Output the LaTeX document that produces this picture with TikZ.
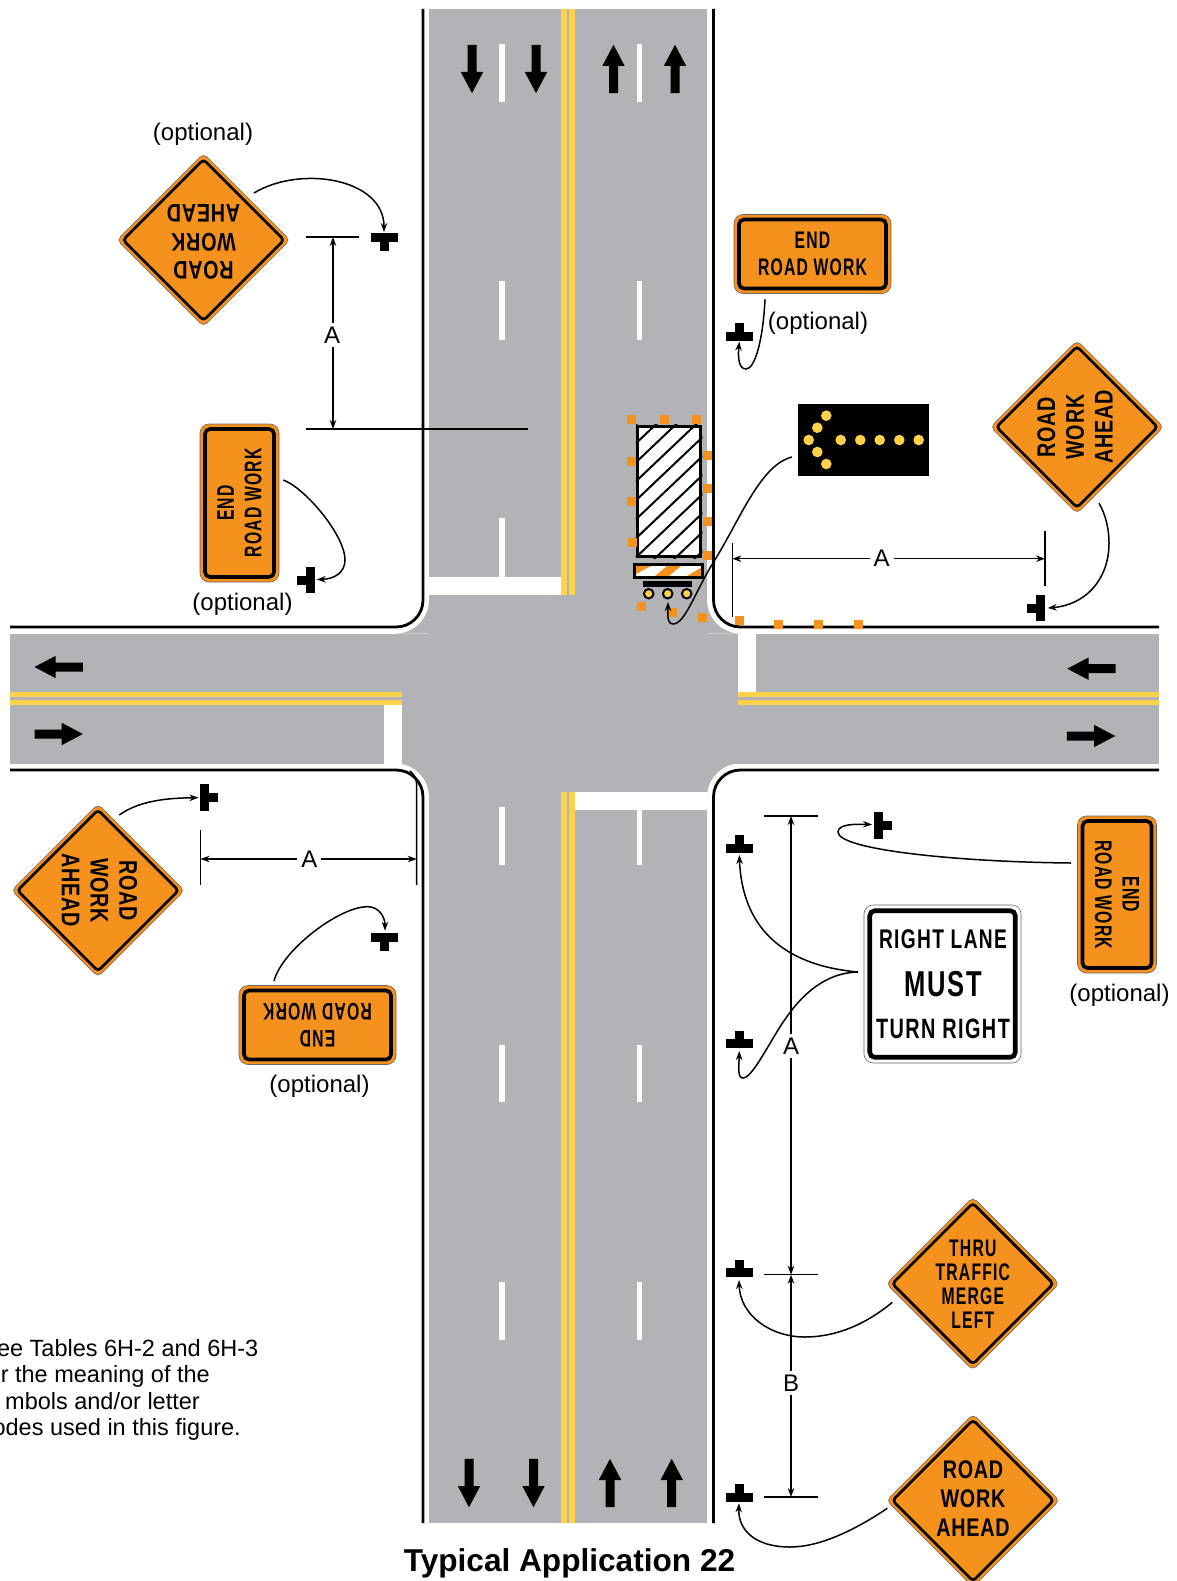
\documentclass[tikz,border=0pt]{standalone}
\usepackage{fontspec}
\usetikzlibrary{shapes.geometric,arrows.meta}
\setmainfont{Liberation Sans}
\newfontfamily\signf{Liberation Sans}[FakeStretch=0.655,LetterSpace=5]
\newfontfamily\whitef{Liberation Sans}[FakeStretch=0.71,LetterSpace=5]
\newfontfamily\dianf{Liberation Sans}[FakeStretch=0.775,LetterSpace=3]
\definecolor{roadgray}{HTML}{B1B3B6}
\definecolor{signorange}{HTML}{F5921E}
\definecolor{lineyellow}{HTML}{FFD24A}
\tikzset{
  conn/.style={line width=1.5pt,-{Stealth[length=9pt,width=6.5pt]}},
  dimline/.style={line width=1.5pt,{Stealth[length=9pt,width=6.5pt]}-{Stealth[length=9pt,width=6.5pt]}},
  tick/.style={line width=1.5pt},
  curb/.style={line width=2.8pt,black},
  dout/.style={diamond,aspect=1,inner sep=0pt,outer sep=0pt,minimum width=173pt,minimum height=173pt,fill=signorange,draw=black!60,line width=.6pt,rounded corners=5pt},
  din/.style={diamond,aspect=1,inner sep=0pt,outer sep=0pt,minimum width=161pt,minimum height=161pt,draw=black,line width=2.7pt,rounded corners=3.5pt},
  rout/.style={rectangle,inner sep=0pt,outer sep=0pt,fill=signorange,draw=black!60,line width=.6pt,rounded corners=9pt},
  rin/.style={rectangle,inner sep=0pt,outer sep=0pt,draw=black,line width=3.6pt,rounded corners=5pt},
  dimlab/.style={fill=white,inner sep=4pt,font=\fontsize{24}{24}\selectfont},
  opt/.style={font=\fontsize{24}{24}\selectfont},
  notetxt/.style={anchor=base east,inner sep=0pt,font=\fontsize{23.5}{24}\selectfont},
  dtxt/.style={align=center,inner sep=0pt,font=\dianf\bfseries\fontsize{25.5}{28.8}\selectfont},
  stxt/.style={align=center,inner sep=0pt,font=\signf\bfseries\fontsize{24}{27.7}\selectfont},
  dot/.style={circle,fill=lineyellow,inner sep=0pt,minimum size=10.6pt},
  wheel/.style={circle,fill=lineyellow,draw=black,line width=2pt,inner sep=0pt,minimum size=9.5pt}
}
\newcommand{\signpost}[6]{%
  \begin{scope}[shift={(#2,#3)},rotate=#4]
    \fill[black] (-13.4,0) rectangle (13.4,8.8);
    \fill[black] (-4.5,0) rectangle (4.5,-8.8);
  \end{scope}
  \coordinate (#1) at (#5,#6);}
\newcommand{\bigarrow}[3]{%
  \begin{scope}[shift={(#1,#2)},rotate=#3]
    \fill[black] (-4.5,24.2) -- (4.5,24.2) -- (4.5,-3) -- (11.2,-3) -- (0,-24.2) -- (-11.2,-3) -- (-4.5,-3) -- cycle;
  \end{scope}}
\newcommand{\dsign}[6]{%
  \node[dout] (#1) at (#2,#3) {};
  \node[din] (#1i) at (#2,#3) {};
  \node[#6,rotate=#4] (#1t) at (#2,#3) {#5};}
\newcommand{\rsign}[7]{%
  \node[rout,minimum width=#4pt,minimum height=#5pt] (#1) at (#2,#3) {};
  \node[rin,minimum width=#4pt-10pt,minimum height=#5pt-10pt] (#1i) at (#2,#3) {};
  \node[stxt,rotate=#6] (#1t) at (#2,#3) {#7};}
\begin{document}
\begin{tikzpicture}[x=1pt,y=-1pt]
\clip (0,0) rectangle (1177,1581);
% road
\fill[roadgray] (429,9) rectangle (707,1523);
\fill[roadgray] (10,633.5) rectangle (1159,763.5);
\fill[roadgray] (429,600) .. controls (429,618.2) and (414.2,633.5) .. (396,633.5) -- (429,633.5) -- cycle;
\fill[roadgray] (707,600) .. controls (707,618.2) and (721.8,633.5) .. (740,633.5) -- (707,633.5) -- cycle;
\fill[roadgray] (429,797) .. controls (429,778.8) and (414.2,763.5) .. (396,763.5) -- (429,763.5) -- cycle;
\fill[roadgray] (707,797) .. controls (707,778.8) and (721.8,763.5) .. (740,763.5) -- (707,763.5) -- cycle;
% stop bars
\fill[white] (429,577) rectangle (561,595);
\fill[white] (575,792) rectangle (707,810);
\fill[white] (384,705) rectangle (402,763.5);
\fill[white] (738,633.5) rectangle (756,692);
% yellow centre lines
\fill[lineyellow] (561,9) rectangle (567,595);
\fill[lineyellow] (569,9) rectangle (575,595);
\fill[lineyellow] (561,792) rectangle (567,1523);
\fill[lineyellow] (569,792) rectangle (575,1523);
\fill[lineyellow] (10,692) rectangle (402,697.4);
\fill[lineyellow] (10,699.7) rectangle (402,705);
\fill[lineyellow] (738,692) rectangle (1159,697.4);
\fill[lineyellow] (738,699.7) rectangle (1159,705);
% lane lines
\foreach \a/\b in {44/102,281/340,518/577,807/865,1045/1102,1282/1340}
  \fill[white] (499.3,\a) rectangle (504.7,\b);
\foreach \a/\b in {44/102,281/340,810/865,1045/1102,1282/1340}
  \fill[white] (636.8,\a) rectangle (642.2,\b);
% curbs
\draw[curb] (423,9) -- (423,600) .. controls (423,615) and (411,627) .. (396,627) -- (10,627);
\draw[curb] (713.5,9) -- (713.5,600) .. controls (713.5,615) and (725.5,627) .. (740.5,627) -- (1159,627);
\draw[curb] (10,770) -- (396,770) .. controls (411,770) and (423,782) .. (423,797) -- (423,1523);
\draw[curb] (1159,770) -- (740.5,770) .. controls (725.5,770) and (713.5,782) .. (713.5,797) -- (713.5,1523);
% lane arrows
\bigarrow{472}{69}{180}\bigarrow{536}{69}{180}\bigarrow{613.5}{69}{0}\bigarrow{675}{69}{0}
\bigarrow{469}{1483}{180}\bigarrow{533.5}{1483}{180}\bigarrow{610}{1483}{0}\bigarrow{671.7}{1483}{0}
\bigarrow{58.7}{667}{90}\bigarrow{58.7}{734}{-90}\bigarrow{1091.5}{668.7}{90}\bigarrow{1091}{736}{-90}
% truck
\node[rectangle,fill=white,inner sep=0pt,outer sep=0pt,minimum width=66.6pt,minimum height=133.3pt] (truckbody) at (669,491.3) {};
\begin{scope}
  \clip (635.7,424.7) rectangle (702.3,558);
  \foreach \k in {-1,...,9}
    \draw[line width=2pt] (636,{443.3+19*\k}) -- (704,{443.3+19*\k-64.6});
\end{scope}
\node[rectangle,draw=black,line width=3pt,inner sep=0pt,outer sep=0pt,minimum width=63.6pt,minimum height=130.3pt] (truckframe) at (669,491.3) {};
\node[rectangle,fill=white,inner sep=0pt,outer sep=0pt,minimum width=70pt,minimum height=14pt] (att) at (668.5,571) {};
\fill[signorange] (636,566) -- (651,566) -- (636,574) -- cycle;
\fill[signorange] (655,576) -- (669,576) -- (681,566) -- (667,566) -- cycle;
\fill[signorange] (687,576) -- (702,576) -- (702,567) -- cycle;
\node[rectangle,draw=black,line width=2.6pt,inner sep=0pt,outer sep=0pt,minimum width=68.5pt,minimum height=13pt] (attframe) at (668.5,571) {};
\node[rectangle,fill=black,inner sep=0pt,outer sep=0pt,minimum width=48.7pt,minimum height=5.4pt] (truckbar) at (667.7,584) {};
\node[wheel] (w1) at (648.7,593.7) {};
\node[wheel] (w2) at (667.7,593.7) {};
\node[wheel] (w3) at (686.7,593.7) {};
% channelizers
\foreach \x/\y in {631.3/419.3,664.3/419.3,696.3/419.3,631.3/461.3,631.3/501.3,632.3/542.3,707.3/455.3,707.3/488.3,707.3/521.3,707.3/555.3,641.3/606.3,672.7/612.3,702.3/617.3,739.3/620.3,778.3/624.3,818.3/624.3,858.3/624.3}
  \fill[signorange] ({\x-4.5},{\y-4.5}) rectangle ({\x+4.5},{\y+4.5});
% arrow panel
\node[rectangle,fill=black,inner sep=0pt,outer sep=0pt,minimum width=131pt,minimum height=72pt] (panel) at (863.5,440) {};
\foreach \x/\y [count=\i] in {808.7/440,817.3/427.7,826.3/415.7,817.3/452,826.3/464,840.7/440,860.3/440,879.7/440,899.3/440,918.7/440}
  \node[dot] (dot\i) at (\x,\y) {};
% signs
\dsign{sA}{203.5}{240}{180}{ROAD\\WORK\\AHEAD}{dtxt,yshift=-2pt}
\dsign{sB}{1077}{427}{90}{ROAD\\WORK\\AHEAD}{dtxt,xshift=-2pt}
\dsign{sC}{98}{890.5}{-90}{ROAD\\WORK\\AHEAD}{dtxt,xshift=1.5pt}
\dsign{sD}{973}{1500.5}{0}{ROAD\\WORK\\AHEAD}{dtxt,yshift=2pt}
\node[dout] (sE) at (972.8,1283.7) {};
\node[din] (sEi) at (972.8,1283.7) {};
\node[align=center,inner sep=0pt,font=\signf\bfseries\fontsize{24}{24}\selectfont] (sEt) at (972.8,1284) {THRU\\TRAFFIC\\MERGE\\LEFT};
\rsign{rA}{812.5}{254}{157}{79}{0}{END\\ROAD WORK}
\rsign{rB}{239.5}{503}{79}{158}{90}{END\\ROAD WORK}
\rsign{rC}{317.5}{1025}{157}{79}{180}{END\\ROAD WORK}
\rsign{rD}{1117}{894.5}{79}{157}{-90}{END\\ROAD WORK}
% white regulatory sign
\node[rectangle,inner sep=0pt,outer sep=0pt,fill=white,draw=black!60,line width=.6pt,rounded corners=9pt,minimum width=157pt,minimum height=158pt] (wsign) at (942.5,984) {};
\node[rectangle,inner sep=0pt,outer sep=0pt,draw=black,line width=4.6pt,rounded corners=5pt,minimum width=145.5pt,minimum height=146.5pt] (wsigni) at (942.5,984) {};
\node[inner sep=0pt,font=\whitef\bfseries\fontsize{27}{27}\selectfont] (wl1) at (943,939.5) {RIGHT LANE};
\node[inner sep=0pt,font=\whitef\bfseries\fontsize{36}{36}\selectfont] (wl2) at (943,984) {MUST};
\node[inner sep=0pt,font=\whitef\bfseries\fontsize{28}{28}\selectfont] (wl3) at (943,1028.5) {TURN RIGHT};
% sign posts
\signpost{tA}{384.5}{242}{180}{384}{232}
\signpost{tB}{739.3}{332}{0}{739.3}{341.7}
\signpost{tC}{305.7}{580}{90}{316.7}{579.5}
\signpost{tD}{209}{797.5}{-90}{198.5}{797.7}
\signpost{tE}{384.5}{942}{180}{385}{930.7}
\signpost{tF}{1036}{608}{90}{1047.7}{608}
\signpost{tG}{883}{825.5}{-90}{872}{824.5}
\signpost{tH}{739.3}{843.7}{0}{739.3}{855}
\signpost{tI}{739.3}{1039.3}{0}{739.3}{1051}
\signpost{tJ}{739.3}{1268.3}{0}{739}{1280}
\signpost{tK}{739.3}{1492.7}{0}{739}{1503.3}
% connector starts
\coordinate (cA) at (254,193);
\coordinate (cB) at (765,299.3);
\coordinate (cC) at (283.3,480);
\coordinate (cD) at (119.3,815);
\coordinate (cE) at (274,981);
\coordinate (cF) at (1099,503.3);
\coordinate (cG) at (1071,863);
\coordinate (cW) at (858,972);
\coordinate (cJ) at (892.3,1302.3);
\coordinate (cK) at (887.3,1508.3);
\coordinate (cP) at (792,457);
\coordinate (tL) at (668,602);
% connectors
\draw[conn] (cA) .. controls (300,165) and (384,178) .. (tA);
\draw[conn] (cB) .. controls (763,340) and (755,369) .. (746,369) .. controls (738,369) and (738,355) .. (tB);
\draw[conn] (cC) .. controls (305,488) and (345,535) .. (345,560) .. controls (345,572) and (335,579) .. (tC);
\draw[conn] (cD) .. controls (140,800) and (170,798) .. (tD);
\draw[conn] (cE) .. controls (282,950) and (340,906) .. (368,906.7) .. controls (380,907) and (385,918) .. (tE);
\draw[conn] (cF) .. controls (1106,515) and (1109,530) .. (1109,543) .. controls (1109,580) and (1085,605) .. (tF);
\draw[conn] (cG) .. controls (960,862) and (838,850) .. (838,832) .. controls (838,824) and (855,824) .. (tG);
\draw[conn] (cW) .. controls (780,965) and (742,925) .. (tH);
\draw[conn] (cW) .. controls (815,973) and (790,1010) .. (775,1035) .. controls (760,1060) and (750,1078) .. (743,1078) .. controls (737,1078) and (739,1065) .. (tI);
\draw[conn] (cJ) .. controls (865,1325) and (835,1337) .. (805,1337) .. controls (770,1337) and (740,1315) .. (tJ);
\draw[conn] (cK) .. controls (855,1530) and (820,1547) .. (790,1547) .. controls (755,1547) and (738,1530) .. (tK);
\draw[conn] (cP) .. controls (760,465) and (740,520) .. (713,563) .. controls (695,592) and (685,624) .. (673,624) .. controls (666,624) and (668,610) .. (tL);
% dimensions: top-left
\coordinate (d1a) at (306,237); \coordinate (d1b) at (359,237);
\coordinate (d2a) at (306,429); \coordinate (d2b) at (528,429);
\coordinate (d1m) at (333,237); \coordinate (d2m) at (333,429);
\draw[tick] (d1a) -- (d1b);
\draw[tick] (d2a) -- (d2b);
\draw[dimline] (d1m) -- (d2m);
\node[dimlab] (la) at (332,335) {A};
% top-right
\coordinate (d3a) at (732.3,543); \coordinate (d3b) at (732.3,617);
\coordinate (d4a) at (1045,530.7); \coordinate (d4b) at (1045,585.7);
\coordinate (d3m) at (732.3,558.7); \coordinate (d4m) at (1045,558.7);
\draw[tick] (d3a) -- (d3b);
\draw[tick] (d4a) -- (d4b);
\draw[dimline] (d3m) -- (d4m);
\node[dimlab] (lb) at (881.7,558.7) {A};
% bottom-left
\coordinate (d5a) at (200.5,830); \coordinate (d5b) at (200.5,885);
\coordinate (d6a) at (416.7,885); \coordinate (d6b) at (410,771);
\coordinate (d5m) at (200.5,859); \coordinate (d6m) at (416.7,859);
\draw[tick] (d5a) -- (d5b);
\draw[tick] (d6a) -- (416.7,785) .. controls (416.7,779) and (414,774) .. (d6b);
\draw[dimline] (d5m) -- (d6m);
\node[dimlab] (lc) at (309.3,859) {A};
% right
\coordinate (d7a) at (764,816); \coordinate (d7b) at (818,816);
\coordinate (d8a) at (764,1274.7); \coordinate (d8b) at (818,1274.7);
\coordinate (d9a) at (764,1497); \coordinate (d9b) at (818,1497);
\coordinate (d7m) at (791,816); \coordinate (d8m) at (791,1274.7); \coordinate (d9m) at (791,1497);
\draw[tick] (d7a) -- (d7b);
\draw[tick] (d8a) -- (d8b);
\draw[tick] (d9a) -- (d9b);
\draw[dimline] (d7m) -- (d8m);
\draw[dimline] (d8m) -- (d9m);
\node[dimlab] (ld) at (791,1046) {A};
\node[dimlab] (le) at (791,1383) {B};
% labels
\node[opt] (o1) at (203,134) {(optional)};
\node[opt] (o2) at (818,323) {(optional)};
\node[opt] (o3) at (242.5,604) {(optional)};
\node[opt] (o4) at (1119.5,995.5) {(optional)};
\node[opt] (o5) at (319.5,1086) {(optional)};
\node[notetxt] (n1) at (258.5,1356) {ee Tables 6H-2 and 6H-3};
\node[notetxt] (n2) at (210,1382.7) {r the meaning of the};
\node[notetxt] (n3) at (200,1409) {mbols and/or letter};
\node[notetxt] (n4) at (241,1435.3) {odes used in this figure.};
\node[inner sep=0pt,font=\bfseries\fontsize{31.6}{32}\selectfont] (title) at (569.5,1563) {Typical Application 22};
\end{tikzpicture}
\end{document}
